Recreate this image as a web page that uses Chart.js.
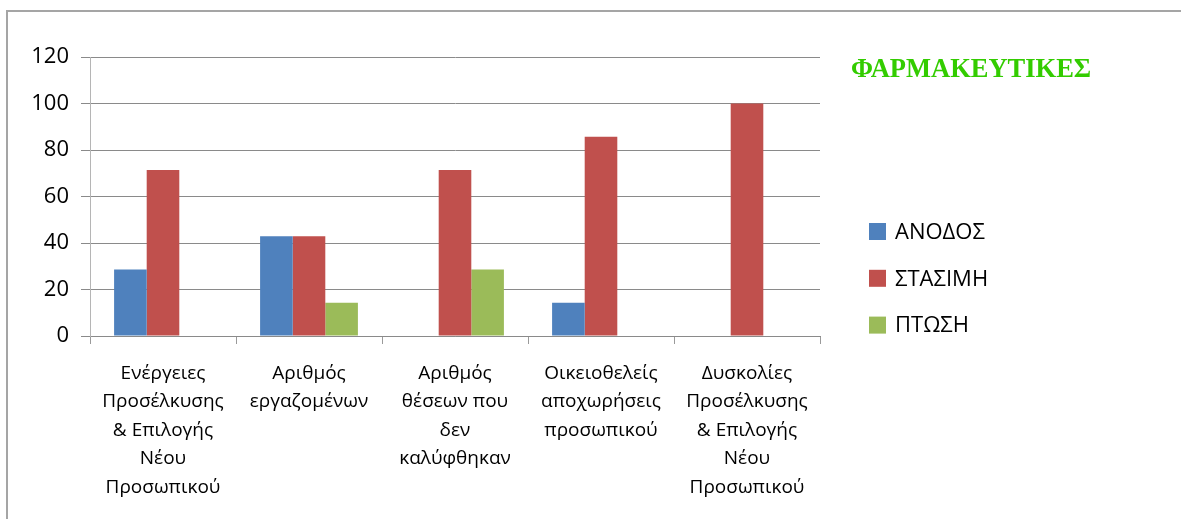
<!DOCTYPE html>
<html>
<head>
<meta charset="utf-8">
<script src="https://cdn.jsdelivr.net/npm/chart.js@4/dist/chart.umd.min.js"></script>
<style>
  html, body { margin: 0; padding: 0; background: #ffffff; }
  #wrap { position: relative; width: 1181px; height: 519px; overflow: hidden; }
  #frame { position: absolute; left: 6px; top: 10px; width: 1300px; height: 700px;
           border-top: 2px solid #a5a5a5; border-left: 2px solid #a5a5a5; box-sizing: border-box; }
  canvas { position: absolute; left: 0; top: 0; }
</style>
</head>
<body>
<div id="wrap">
  <div id="frame"></div>
  <canvas id="c" width="1181" height="519"></canvas>
</div>
<script>
const categories = [
  ["Ενέργειες", "Προσέλκυσης", "& Επιλογής", "Νέου", "Προσωπικού"],
  ["Αριθμός", "εργαζομένων"],
  ["Αριθμός", "θέσεων που", "δεν", "καλύφθηκαν"],
  ["Οικειοθελείς", "αποχωρήσεις", "προσωπικού"],
  ["Δυσκολίες", "Προσέλκυσης", "& Επιλογής", "Νέου", "Προσωπικού"]
];
const seriesNames = ["ΑΝΟΔΟΣ", "ΣΤΑΣΙΜΗ", "ΠΤΩΣΗ"];
const anodos  = [28.57, 42.86, 0, 14.29, 0];
const stasimi = [71.43, 42.86, 71.43, 85.71, 100];
const ptosi   = [0, 14.29, 28.57, 0, 0];
const yTicks  = [0, 20, 40, 60, 80, 100, 120];
const chartTitle = "ΦΑΡΜΑΚΕΥΤΙΚΕΣ";
const colors = ["#4F81BD", "#C0504D", "#9BBB59"];

const FONT = "'Open Sans', 'Noto Sans', sans-serif";

const sideDecor = {
  id: 'sideDecor',
  afterDraw(chart) {
    const ctx = chart.ctx;
    ctx.save();
    // title
    ctx.font = "bold 26.5px 'Liberation Serif', 'DejaVu Serif', serif";
    ctx.fillStyle = "#33CC00";
    ctx.textBaseline = "middle";
    ctx.textAlign = "left";
    ctx.fillText(chartTitle, 851, 70);
    // legend
    ctx.font = "22px " + FONT;
    chart.data.datasets.forEach((ds, i) => {
      const cy = 231.5 + i * 46.8;
      ctx.fillStyle = ds.backgroundColor;
      ctx.fillRect(869, cy - 8.5, 17, 17);
      ctx.fillStyle = "#000000";
      ctx.fillText(ds.label, 895, cy + 1);
    });
    ctx.restore();
  }
};

new Chart(document.getElementById('c'), {
  type: 'bar',
  data: {
    labels: categories,
    datasets: [
      { label: seriesNames[0], data: anodos,  backgroundColor: colors[0] },
      { label: seriesNames[1], data: stasimi, backgroundColor: colors[1] },
      { label: seriesNames[2], data: ptosi,   backgroundColor: colors[2] }
    ]
  },
  options: {
    responsive: false,
    devicePixelRatio: 1,
    animation: false,
    layout: { padding: { top: 57, right: 361, left: 0, bottom: 0 } },
    datasets: { bar: { categoryPercentage: 0.67, barPercentage: 1.0 } },
    plugins: {
      legend: { display: false },
      title: { display: false },
      tooltip: { enabled: false }
    },
    scales: {
      x: {
        afterFit(scale) { scale.height = 183; },
        grid: { drawOnChartArea: false, drawTicks: true, tickLength: 8, color: '#9a9a9a', offset: true },
        border: { display: true, color: '#8a8a8a', width: 1 },
        ticks: {
          color: '#000000',
          font: { family: FONT, size: 19, lineHeight: 1.5 },
          maxRotation: 0, minRotation: 0, autoSkip: false, padding: 15
        }
      },
      y: {
        min: 0, max: 120,
        afterFit(scale) { scale.width = 90; },
        afterBuildTicks(scale) { scale.ticks = yTicks.map(v => ({ value: v })); },
        grid: { color: '#8a8a8a', lineWidth: 1, drawTicks: true, tickLength: 9 },
        border: { display: true, color: '#b5b5b5', width: 1 },
        ticks: {
          color: '#000000',
          font: { family: FONT, size: 22 },
          padding: 12
        }
      }
    }
  },
  plugins: [sideDecor]
});
</script>
</body>
</html>
